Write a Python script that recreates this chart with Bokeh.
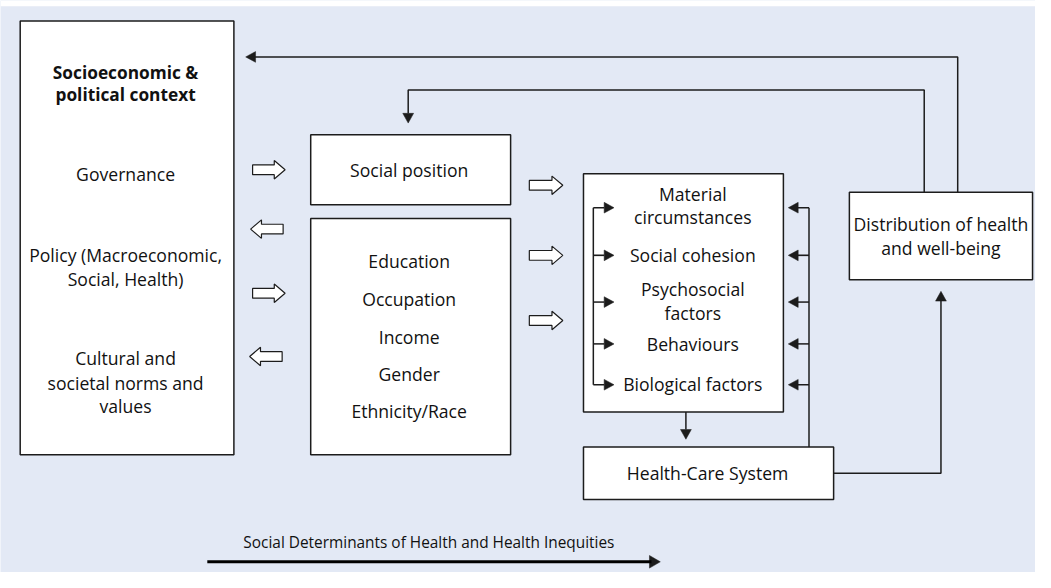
from bokeh.plotting import figure
from bokeh.models import Range1d
from bokeh.core.properties import value
from bokeh.embed import file_html
from bokeh.resources import INLINE

# ---- texts of the diagram ----
context_title = ["Socioeconomic &", "political context"]
context_items = ["Governance", "Policy (Macroeconomic,", "Social, Health)",
                 "Cultural and", "societal norms and", "values"]
position_title = ["Social position"]
position_items = ["Education", "Occupation", "Income", "Gender", "Ethnicity/Race"]
intermediary_items = ["Material", "circumstances", "Social cohesion", "Psychosocial",
                      "factors", "Behaviours", "Biological factors"]
health_system = ["Health-Care System"]
outcome = ["Distribution of health", "and well-being"]
axis_caption = ["Social Determinants of Health and Health Inequities"]

# ---- layout (pixel coordinates of the original drawing, y downward) ----
BG = "#e3e9f5"
INK = "#1c1c1c"
FONT = "Open Sans"

p = figure(width=1035, height=572, output_backend="svg", toolbar_location=None,
           x_range=Range1d(0, 1051), y_range=Range1d(588, 0), min_border=0)
p.axis.visible = False
p.grid.visible = False
p.outline_line_color = None
p.background_fill_color = BG
p.border_fill_color = BG

# thin white band along the top edge
p.quad(left=[0], right=[1051], top=[0], bottom=[6], fill_color="white", line_color=None)

# boxes: left, right, top, bottom
boxes = [(20, 237, 21, 467), (315, 518, 138, 210), (315, 518, 224, 467),
         (592, 795, 178, 423), (592, 846, 459, 513), (862, 1048, 197, 287)]
p.quad(left=[b[0] for b in boxes], right=[b[1] for b in boxes],
       top=[b[2] for b in boxes], bottom=[b[3] for b in boxes],
       fill_color="white", line_color=INK, line_width=1.5)

# connector lines
lines = [
    ([972, 972, 258], [197, 58, 58]),
    ([938, 938, 414, 414], [197, 92, 92, 116]),
    ([846, 955, 955], [486, 486, 308]),
    ([696, 696], [423, 441]),
    ([821, 821], [459, 213]),
    ([602, 602], [213, 395]),
]
ticks_y = [213, 262, 310, 353, 395]
for ty in ticks_y:
    lines.append(([821, 809], [ty, ty]))
    lines.append(([602, 613], [ty, ty]))
p.multi_line(xs=[l[0] for l in lines], ys=[l[1] for l in lines],
             line_color=INK, line_width=1.5)

# solid arrow heads: (tip x, tip y, direction)
def head(tx, ty, d, L=10, W=5.5):
    if d == "left":
        return [tx, tx + L, tx + L], [ty, ty - W, ty + W]
    if d == "right":
        return [tx, tx - L, tx - L], [ty, ty - W, ty + W]
    if d == "up":
        return [tx, tx - W, tx + W], [ty, ty + L, ty + L]
    return [tx, tx - W, tx + W], [ty, ty - L, ty - L]

heads = [head(249, 58, "left"), head(414, 126, "down"), head(955, 299, "up"),
         head(696, 451, "down")]
for ty in ticks_y:
    heads.append(head(800, ty, "left"))
    heads.append(head(623, ty, "right"))
heads.append(head(670, 577, "right", L=11, W=6.5))
p.patches(xs=[h[0] for h in heads], ys=[h[1] for h in heads],
          fill_color=INK, line_color=INK, line_width=0.5)

# bottom axis arrow
p.line(x=[210, 661], y=[577, 577], line_color="black", line_width=3)

# hollow block arrows: (tail x, tip x, y)
def block(x0, x1, y, hl=11, sh=5, hh=9.5):
    s = 1 if x1 > x0 else -1
    xb = x1 - s * hl
    return ([x0, xb, xb, x1, xb, xb, x0], [y - sh, y - sh, y - hh, y, y + hh, y + sh, y + sh])

blocks = [block(256, 289, 174), block(287, 254, 235), block(256, 289, 301),
          block(286, 253, 366), block(537, 571, 190), block(537, 571, 262),
          block(537, 571, 329)]
p.patches(xs=[b[0] for b in blocks], ys=[b[1] for b in blocks],
          fill_color="white", line_color=INK, line_width=1.2)

# texts
def put(xs, ys, labels, size="17.6px", style="normal"):
    p.text(x=xs, y=ys, text=labels, text_align="center", text_baseline="middle",
           text_font=value(FONT), text_font_size=size, text_font_style=style,
           text_color="#111111")

put([127, 127], [74, 97], context_title, size="17.3px", style="bold")
put([127] * 6, [178, 262, 286, 368, 393, 417], context_items)
put([415], [174], position_title)
put([415] * 5, [268, 307, 346, 384, 422], position_items)
put([703] * 7, [199, 223, 262, 297, 321, 353, 394], intermediary_items)
put([718], [486], health_system)
put([955, 955], [230, 254], outcome)
put([435], [557], axis_caption, size="15.4px")

open("out.html", "w").write(file_html(p, INLINE))
